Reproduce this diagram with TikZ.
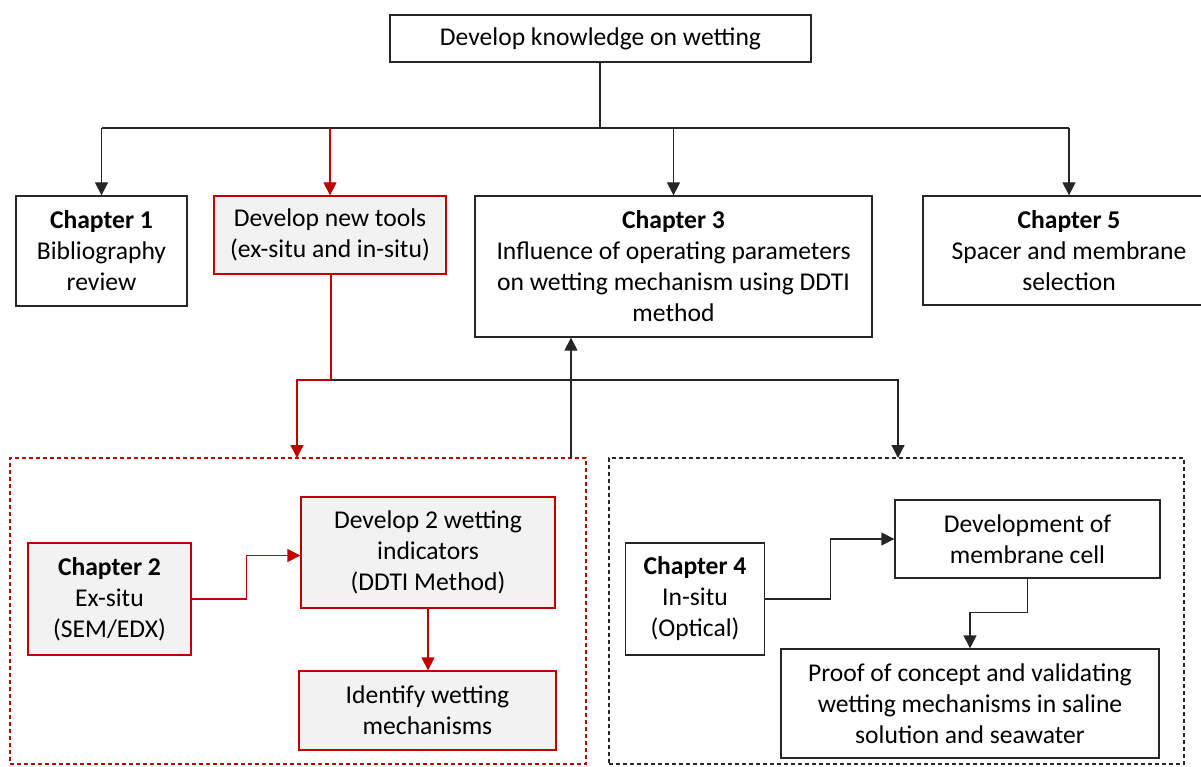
\documentclass[tikz,border=0pt]{standalone}
\usepackage{fontspec}
\setmainfont{Carlito}
\usetikzlibrary{arrows.meta}
\definecolor{thesisred}{HTML}{C00000}
\definecolor{boxfill}{HTML}{F2F2F2}
\definecolor{linegray}{HTML}{262626}
\begin{document}
\begin{tikzpicture}[x=1pt,y=-1pt,
  every node/.style={font=\fontsize{25.6}{31}\selectfont, align=center, inner sep=0pt},
  plainbox/.style={draw=linegray, line width=1.3pt, fill=white},
  redbox/.style={draw=thesisred, line width=1.3pt, fill=boxfill},
  groupred/.style={draw=thesisred, line width=1.1pt, dash pattern=on 4pt off 3pt},
  groupgray/.style={draw=linegray, line width=1.1pt, dash pattern=on 4pt off 3pt},
  arr/.style={draw=linegray, line width=1.3pt, -{Triangle[width=13pt,length=13pt]}},
  redarr/.style={draw=thesisred, line width=1.3pt, -{Triangle[width=13pt,length=13pt]}},
  redline/.style={draw=thesisred, line width=1.3pt},
  blackline/.style={draw=linegray, line width=1.3pt}]
\useasboundingbox (0,0) rectangle (1201,767);

% dashed group frames
\node[groupred, minimum width=576pt, minimum height=306pt] (exbox) at (298,611) {};
\node[groupgray, minimum width=575pt, minimum height=306pt] (inbox) at (896.5,611) {};

% top row
\node[plainbox, minimum width=421pt, minimum height=47pt] (top) at (600.5,38.5) {Develop knowledge on wetting};
\node[plainbox, minimum width=171pt, minimum height=110pt] (ch1) at (101.5,251) {\textbf{Chapter 1}\\Bibliography\\review};
\node[redbox, minimum width=232pt, minimum height=78pt] (tools) at (330,235) {Develop new tools\\(ex-situ and in-situ)};
\node[plainbox, minimum width=397pt, minimum height=141pt] (ch3) at (673.5,266.5) {\textbf{Chapter 3}\\Influence of operating parameters\\on wetting mechanism using DDTI\\method};
\node[plainbox, minimum width=292pt, minimum height=109pt] (ch5) at (1069,250.5) {\textbf{Chapter 5}\\Spacer and membrane\\selection};

% ex-situ group
\node[redbox, minimum width=163pt, minimum height=112pt] (ch2) at (109.5,599) {\textbf{Chapter 2}\\Ex-situ\\(SEM/EDX)};
\node[redbox, minimum width=254pt, minimum height=111pt] (ind) at (428,552.5) {Develop 2 wetting\\indicators\\(DDTI Method)};
\node[redbox, minimum width=257pt, minimum height=79pt] (ident) at (427.5,710.5) {Identify wetting\\mechanisms};

% in-situ group
\node[plainbox, minimum width=139pt, minimum height=112pt] (ch4) at (695,599) {\textbf{Chapter 4}\\In-situ\\(Optical)};
\node[plainbox, minimum width=265pt, minimum height=78pt] (cell) at (1027.5,539) {Development of\\membrane cell};
\node[plainbox, minimum width=378pt, minimum height=109pt] (proof) at (970,703.5) {Proof of concept and validating\\wetting mechanisms in saline\\solution and seawater};

% junction points
\coordinate (hub) at (600,128);
\coordinate (split) at (331,380);
\coordinate (exin) at (297,458);
\coordinate (inin) at (898,458);
\coordinate (upfoot) at (571,458);

% top fan-out
\draw[blackline] (top.south -| hub) -- (hub);
\draw[blackline] (hub -| ch1.north) -- (hub -| ch5.north);
\draw[arr] (hub -| ch1.north) -- (ch1.north);
\draw[redarr] (hub -| tools.north) -- (tools.north);
\draw[arr] (hub -| ch3.north) -- (ch3.north);
\draw[arr] (hub -| ch5.north) -- (ch5.north);

% tools split into the two groups
\draw[redline] (tools.south -| split) -- (split);
\draw[redarr] (split) -| (exin);
\draw[arr] (split) -| (inin);
\draw[arr] (upfoot) -- (upfoot |- ch3.south);

% inside ex-situ group
\draw[redarr] (ch2.east) -- ++(55,0) |- ([yshift=-3pt]ind.west);
\draw[redarr] (ind.south) -- (ind.south |- ident.north);

% inside in-situ group
\draw[arr] (ch4.east) -- ++(65,0) |- (cell.west);
\draw[arr] (cell.south) -- ++(0,34) -| (proof.north);
\end{tikzpicture}
\end{document}
